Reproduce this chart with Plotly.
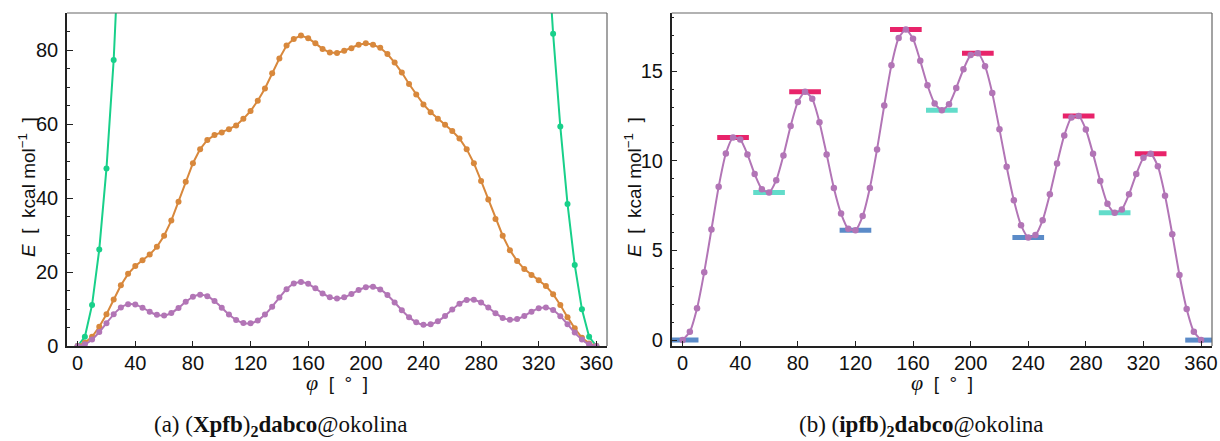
import plotly.graph_objects as go

# ---------------- data ----------------
phi = list(range(0, 361, 5))

E_ipfb = [0, 0.46, 1.77, 3.79, 6.17, 8.55, 10.41, 11.30, 11.19, 10.36,
          9.26, 8.42, 8.24, 8.92, 10.30, 11.94, 13.29, 13.85, 13.46, 12.16,
          10.36, 8.49, 7.06, 6.21, 6.13, 6.92, 8.49, 10.64, 13.09, 15.34,
          16.86, 17.33, 16.81, 15.58, 14.22, 13.20, 12.83, 13.16, 14.07, 15.11,
          15.90, 16.01, 15.28, 13.78, 11.77, 9.67, 7.80, 6.41, 5.73, 5.86,
          6.69, 8.14, 9.85, 11.42, 12.42, 12.51, 11.75, 10.39, 8.87, 7.60,
          7.10, 7.29, 8.14, 9.26, 10.17, 10.39, 9.70, 8.05, 5.91, 3.63,
          1.73, 0.46, 0]

E_xpfb_orange = [0, 0.9, 2.5, 5.2, 8.6, 12.6, 16.4, 19.5, 21.6, 23.2,
                 24.7, 26.8, 29.8, 33.9, 39.0, 44.4, 49.4, 53.2, 55.7, 57.0,
                 57.7, 58.6, 59.6, 61.4, 63.5, 66.3, 69.6, 73.7, 77.7, 81.2,
                 83.0, 83.9, 83.2, 81.8, 80.3, 79.3, 79.2, 79.8, 80.5, 81.4,
                 81.8, 81.4, 80.6, 78.9, 76.6, 73.9, 70.8, 68.0, 65.3, 63.2,
                 61.4, 59.8, 58.1, 56.1, 53.2, 49.4, 44.6, 39.6, 34.3, 29.8,
                 25.9, 23.0, 20.8, 19.2, 17.8, 16.2, 14.0, 11.1, 7.8, 4.8,
                 2.2, 0.7, 0]

phi_green = [0, 5, 10, 15, 20, 25, 30, 325, 330, 335, 340, 345, 350, 355, 360]
E_green = [0, 2.5, 11.1, 26.1, 48.0, 77.3, 120, 115, 84.4, 59.3, 38.4, 21.9, 9.9, 2.5, 0]

min1_phi = [0, 120, 240, 360]
min1_E = [0, 6.13, 5.73, 0]
min2_phi = [60, 180, 300]
min2_E = [8.24, 12.83, 7.10]
max_phi = [35, 85, 155, 205, 275, 325]
max_E = [11.30, 13.85, 17.33, 16.01, 12.51, 10.39]

x_ticks = [0, 40, 80, 120, 160, 200, 240, 280, 320, 360]

# ---------------- styles ----------------
PURPLE = "#b275b6"
ORANGE = "#d8883c"
GREEN = "#18d08a"
RED = "#e8236a"
CYAN = "#62dcca"
BLUE = "#5b8bc8"
HALF = 11  # bar half width in degrees


def bars(cs, es):
    xs, ys = [], []
    for c, e in zip(cs, es):
        xs += [c - HALF, c + HALF, None]
        ys += [e, e, None]
    return xs, ys


fig = go.Figure()

# left panel
fig.add_trace(go.Scatter(x=phi_green, y=E_green, mode="lines+markers",
                         line=dict(color=GREEN, width=2), marker=dict(size=6, color=GREEN),
                         xaxis="x", yaxis="y", showlegend=False))
fig.add_trace(go.Scatter(x=phi, y=E_xpfb_orange, mode="lines+markers",
                         line=dict(color=ORANGE, width=2), marker=dict(size=6, color=ORANGE),
                         xaxis="x", yaxis="y", showlegend=False))
fig.add_trace(go.Scatter(x=phi, y=E_ipfb, mode="lines+markers",
                         line=dict(color=PURPLE, width=2, shape="spline", smoothing=0.6),
                         marker=dict(size=6, color=PURPLE),
                         xaxis="x", yaxis="y", showlegend=False))

# right panel bars
for cs, es, col in [(min1_phi, min1_E, BLUE), (min2_phi, min2_E, CYAN), (max_phi, max_E, RED)]:
    bx, by = bars(cs, es)
    fig.add_trace(go.Scatter(x=bx, y=by, mode="lines", line=dict(color=col, width=5),
                             xaxis="x2", yaxis="y2", showlegend=False, connectgaps=False))
fig.add_trace(go.Scatter(x=phi, y=E_ipfb, mode="lines+markers",
                         line=dict(color=PURPLE, width=2, shape="spline", smoothing=0.6),
                         marker=dict(size=6.5, color=PURPLE),
                         xaxis="x2", yaxis="y2", showlegend=False))

tickfont = dict(family="Liberation Sans, Arial, sans-serif", size=20, color="#111")
common_x = dict(tickmode="array", tickvals=x_ticks, ticks="inside", ticklen=5, tickwidth=1.2,
                tickcolor="#222", showline=True, linecolor="#222", linewidth=1.5,
                mirror=False, showgrid=False, zeroline=False, tickfont=tickfont,
                automargin=False, ticklabelstandoff=-2)
common_y = dict(ticks="inside", ticklen=6, tickwidth=1.2, tickcolor="#222", showline=True,
                linecolor="#222", linewidth=1.5, mirror=False, showgrid=False,
                zeroline=False, tickfont=tickfont, automargin=False, ticklabelstandoff=3)

W, H = 1220, 441
MT, MB = 13, 95

fig.update_layout(
    width=W, height=H,
    margin=dict(l=0, r=0, t=MT, b=MB),
    plot_bgcolor="white", paper_bgcolor="white",
    xaxis=dict(domain=[67 / W, 607 / W], range=[-7.4, 367.4], anchor="y", **common_x),
    yaxis=dict(domain=[0, 1], range=[0, 90], anchor="x", tickvals=[0, 20, 40, 60, 80],
               minor=dict(dtick=5, ticks="inside", ticklen=3, tickcolor="#222", showgrid=False),
               **common_y),
    xaxis2=dict(domain=[671.7 / W, 1212 / W], range=[-7.6, 367.6], anchor="y2", **common_x),
    yaxis2=dict(domain=[0, 1], range=[-0.33, 18.25], anchor="x2", tickvals=[0, 5, 10, 15],
                minor=dict(dtick=1, tick0=0, ticks="inside", ticklen=3, tickcolor="#222", showgrid=False),
                **common_y),
)

# frame (top and right edges in grey)
for x0, x1 in [(67, 607), (671.7, 1212)]:
    fig.add_shape(type="line", xref="paper", yref="paper", x0=x0 / W, x1=x1 / W, y0=1, y1=1,
                  line=dict(color="#666", width=1.2))
    fig.add_shape(type="line", xref="paper", yref="paper", x0=x1 / W, x1=x1 / W, y0=0, y1=1,
                  line=dict(color="#666", width=1.2))

plot_h = H - MT - MB


def py(ypix):
    # convert pixel y (from top) to paper coords
    return (H - MB - ypix) / plot_h


SP = "&nbsp;"
ylab = f"<i>E</i>{SP*2}[{SP*2}kcal mol<sup>−1</sup>{SP*2}]"
xlab = (f"<span style='font-family:Liberation Serif, serif;font-size:22px'><i>φ</i></span>"
        f"{SP*2}[{SP*2}°{SP*2}]")
lab_font = dict(family="Liberation Sans, Arial, sans-serif", size=19, color="#111")
for xp in [27, 633]:
    fig.add_annotation(text=ylab, xref="paper", yref="paper", x=xp / W, y=py(187),
                       textangle=-90, showarrow=False, font=lab_font,
                       xanchor="center", yanchor="middle")
for xp in [337, 942]:
    fig.add_annotation(text=xlab, xref="paper", yref="paper", x=xp / W, y=py(382),
                       showarrow=False, font=lab_font, xanchor="center", yanchor="middle")

cap_font = dict(family="Liberation Serif, Times New Roman, serif", size=23, color="#111")
caps = [("(a) (<b>Xpfb</b>)<sub><b>2</b></sub><b>dabco</b>@okolina", 280),
        ("(b) (<b>ipfb</b>)<sub><b>2</b></sub><b>dabco</b>@okolina", 921)]
for t, xp in caps:
    fig.add_annotation(text=t, xref="paper", yref="paper", x=xp / W, y=py(426),
                       showarrow=False, font=cap_font, xanchor="center", yanchor="middle")

fig.write_html("out.html", config={"displayModeBar": False},
               post_script="document.body.style.margin='0px';")
